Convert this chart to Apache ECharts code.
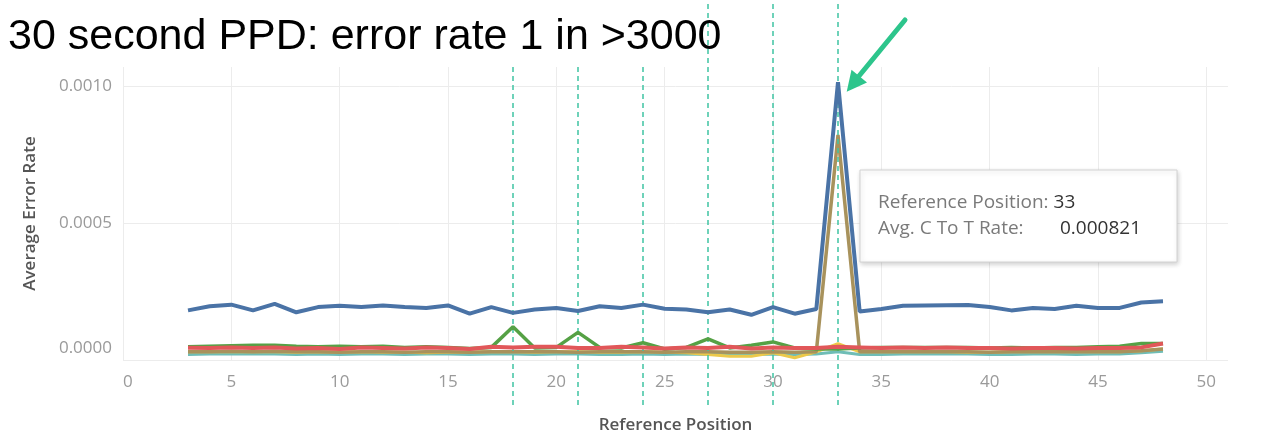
<!DOCTYPE html>
<html>
<head>
<meta charset="utf-8">
<script src="https://cdn.jsdelivr.net/npm/echarts@6/dist/echarts.min.js"></script>
<style>
html,body{margin:0;padding:0;background:#ffffff;}
#c{width:1281px;height:439px;}
</style>
</head>
<body>
<div id="c"></div>
<script>
const titleText = '30 second PPD: error rate 1 in >3000';
const xAxisName = 'Reference Position';
const yAxisName = 'Average Error Rate';

const positions = [3,4,5,6,7,8,9,10,11,12,13,14,15,16,17,18,19,20,21,22,23,24,25,26,27,28,29,30,31,32,33,34,35,36,37,38,39,40,41,42,43,44,45,46,47,48];

const blueRate = [0.000181,0.000196,0.000202,0.000181,0.000205,0.000174,0.000193,0.000198,0.000193,0.000199,0.000193,0.000190,0.000199,0.000169,0.000193,0.000172,0.000184,0.000190,0.000179,0.000196,0.000190,0.000202,0.000187,0.000184,0.000174,0.000184,0.000165,0.000193,0.000169,0.000186,0.001014,0.000177,0.000186,0.000198,0.000199,0.000200,0.000201,0.000193,0.000181,0.000190,0.000186,0.000198,0.000190,0.000190,0.000210,0.000214];

const greenRate = [0.000048,0.000050,0.000052,0.000054,0.000054,0.000050,0.000048,0.000050,0.000048,0.000050,0.000046,0.000048,0.000046,0.000042,0.000046,0.000121,0.000044,0.000046,0.000101,0.000046,0.000044,0.000063,0.000040,0.000046,0.000077,0.000044,0.000054,0.000066,0.000044,0.000040,0.000040,0.000044,0.000046,0.000046,0.000046,0.000046,0.000046,0.000044,0.000046,0.000044,0.000046,0.000046,0.000048,0.000050,0.000060,0.000060];

const redRate = [0.000045,0.000044,0.000046,0.000044,0.000046,0.000042,0.000044,0.000040,0.000046,0.000044,0.000042,0.000046,0.000044,0.000040,0.000048,0.000046,0.000048,0.000048,0.000044,0.000044,0.000048,0.000046,0.000042,0.000046,0.000044,0.000048,0.000042,0.000046,0.000044,0.000044,0.000048,0.000046,0.000044,0.000046,0.000044,0.000046,0.000044,0.000044,0.000042,0.000044,0.000044,0.000042,0.000044,0.000044,0.000046,0.000060];

const oliveRate = [0.000030,0.000030,0.000032,0.000030,0.000032,0.000030,0.000030,0.000028,0.000030,0.000030,0.000028,0.000030,0.000030,0.000028,0.000030,0.000030,0.000030,0.000030,0.000028,0.000030,0.000030,0.000030,0.000028,0.000030,0.000030,0.000028,0.000028,0.000030,0.000028,0.000030,0.000821,0.000030,0.000030,0.000030,0.000030,0.000030,0.000030,0.000028,0.000030,0.000030,0.000030,0.000030,0.000030,0.000030,0.000034,0.000040];

const yellowRate = [0.000030,0.000030,0.000030,0.000030,0.000030,0.000028,0.000030,0.000028,0.000030,0.000028,0.000028,0.000026,0.000028,0.000028,0.000030,0.000030,0.000028,0.000030,0.000030,0.000028,0.000028,0.000030,0.000028,0.000026,0.000020,0.000014,0.000014,0.000026,0.000008,0.000030,0.000060,0.000030,0.000030,0.000030,0.000030,0.000030,0.000028,0.000028,0.000030,0.000030,0.000030,0.000030,0.000030,0.000030,0.000034,0.000040];

const tealRate = [0.000020,0.000022,0.000022,0.000022,0.000022,0.000020,0.000022,0.000020,0.000022,0.000022,0.000020,0.000022,0.000022,0.000020,0.000022,0.000022,0.000020,0.000022,0.000022,0.000020,0.000020,0.000022,0.000020,0.000022,0.000020,0.000020,0.000020,0.000022,0.000020,0.000022,0.000030,0.000020,0.000020,0.000022,0.000022,0.000022,0.000022,0.000020,0.000020,0.000022,0.000022,0.000020,0.000022,0.000022,0.000026,0.000032];

const shortMarked = [18,21,24];
const tallMarked = [27,30,33];
const tooltipPosition = 33;

const chart = echarts.init(document.getElementById('c'), null, {renderer:'canvas'});

const FONT = '"Open Sans", "Noto Sans", sans-serif';
const gridL = 123, gridR = 53;

function mkLine(name, arr, color, width, z) {
  return {
    name: name, type: 'line', xAxisIndex: 0, yAxisIndex: 0,
    data: positions.map((p, i) => [p, arr[i]]),
    showSymbol: false, symbol: 'none',
    lineStyle: {color: color, width: width},
    itemStyle: {color: color},
    z: z, clip: false, silent: true
  };
}

function mkMarks(axisIdx, list) {
  return {
    type: 'line', xAxisIndex: axisIdx, yAxisIndex: axisIdx,
    data: [[0, -10]], showSymbol: false, symbol: 'none',
    lineStyle: {opacity: 0}, silent: true, z: 10,
    markLine: {
      silent: true, symbol: ['none', 'none'], animation: false,
      label: {show: false},
      lineStyle: {color: '#3fc4a3', type: [5, 4], width: 1.5},
      data: list.map(p => ({xAxis: p}))
    }
  };
}

const idx = positions.indexOf(tooltipPosition);
const tipValue = oliveRate[idx].toFixed(6);

const option = {
  animation: false,
  backgroundColor: '#ffffff',
  title: {
    text: titleText, left: 8, top: 16, padding: 0,
    textStyle: {fontFamily: '"Liberation Sans", Arial, sans-serif', fontSize: 43, fontWeight: 'normal', color: '#000'}
  },
  grid: [
    {left: gridL, right: gridR, top: 67, bottom: 78},
    {left: gridL, right: gridR, top: 65, bottom: 34},
    {left: gridL, right: gridR, top: 2, bottom: 34}
  ],
  xAxis: [
    {
      type: 'value', gridIndex: 0, min: 0, max: 51, interval: 5,
      axisLine: {show: false}, axisTick: {show: false},
      splitLine: {show: true, showMaxLine: false, lineStyle: {color: '#ececec', width: 1}},
      axisLabel: {color: '#9a9a9a', fontSize: 17, fontFamily: FONT, margin: 14, showMaxLabel: false, alignMinLabel: 'left'},
      name: xAxisName, nameLocation: 'middle', nameGap: 57,
      nameTextStyle: {color: '#555', fontSize: 17, fontWeight: 600, fontFamily: FONT}
    },
    {type: 'value', gridIndex: 1, min: 0, max: 51, show: false},
    {type: 'value', gridIndex: 2, min: 0, max: 51, show: false}
  ],
  yAxis: [
    {
      type: 'value', gridIndex: 0, min: 0, max: 0.001069, interval: 0.0005,
      axisLine: {show: false}, axisTick: {show: false},
      splitLine: {show: true, showMaxLine: false, lineStyle: {color: '#ececec', width: 1}},
      axisLabel: {
        color: '#9a9a9a', fontSize: 17, fontFamily: FONT, margin: 11, showMaxLabel: false,
        formatter: v => {
          if (Math.abs(v / 0.0005 - Math.round(v / 0.0005)) > 1e-6) return '';
          return v === 0 ? '{z|' + v.toFixed(4) + '}' : v.toFixed(4);
        },
        rich: {z: {fontSize: 17, fontFamily: FONT, color: '#9a9a9a', padding: [0, 0, 24, 0]}}
      },
      name: yAxisName, nameLocation: 'middle', nameGap: 84,
      nameTextStyle: {color: '#555', fontSize: 17, fontWeight: 600, fontFamily: FONT}
    },
    {type: 'value', gridIndex: 1, min: 0, max: 1, show: false},
    {type: 'value', gridIndex: 2, min: 0, max: 1, show: false}
  ],
  series: [
    mkLine('Teal', tealRate, '#6fbdb6', 3, 2),
    mkLine('Yellow', yellowRate, '#ecc94a', 3, 3),
    mkLine('Olive', oliveRate, '#a8925c', 3.5, 4),
    mkLine('Green', greenRate, '#55a145', 3.5, 5),
    mkLine('Red', redRate, '#e15759', 4, 6),
    mkLine('Blue', blueRate, '#4a73a6', 4, 7),
    mkMarks(1, shortMarked),
    mkMarks(2, tallMarked)
  ],
  graphic: [
    {type: 'rect', z: 200, zlevel: 1, shape: {x: 860, y: 170, width: 317, height: 92},
      style: {fill: '#ffffff', stroke: '#d2d2d2', lineWidth: 1, shadowBlur: 5, shadowColor: 'rgba(0,0,0,0.18)', shadowOffsetX: 1, shadowOffsetY: 2}},
    {type: 'text', z: 201, zlevel: 1, x: 878, y: 203,
      style: {text: '{l|Reference Position: }{v|' + tooltipPosition + '}', verticalAlign: 'middle',
        rich: {l: {fontFamily: FONT, fontSize: 19, fill: '#7a7a7a'}, v: {fontFamily: FONT, fontSize: 19, fill: '#333'}}}},
    {type: 'text', z: 201, zlevel: 1, x: 878, y: 229,
      style: {text: 'Avg. C To T Rate:', verticalAlign: 'middle', fontFamily: FONT, fontSize: 19, fill: '#7a7a7a'}},
    {type: 'text', z: 201, zlevel: 1, x: 1060, y: 229,
      style: {text: tipValue, verticalAlign: 'middle', fontFamily: FONT, fontSize: 19, fill: '#333'}},
    {type: 'line', z: 202, zlevel: 1, shape: {x1: 905, y1: 20, x2: 859, y2: 76}, style: {stroke: '#2dc58c', lineWidth: 5, lineCap: 'round'}},
    {type: 'polygon', z: 202, zlevel: 1, shape: {points: [[846.7, 91.7], [867, 82.5], [851.5, 69.8]]}, style: {fill: '#2dc58c'}}
  ]
};

chart.setOption(option);
</script>
</body>
</html>
